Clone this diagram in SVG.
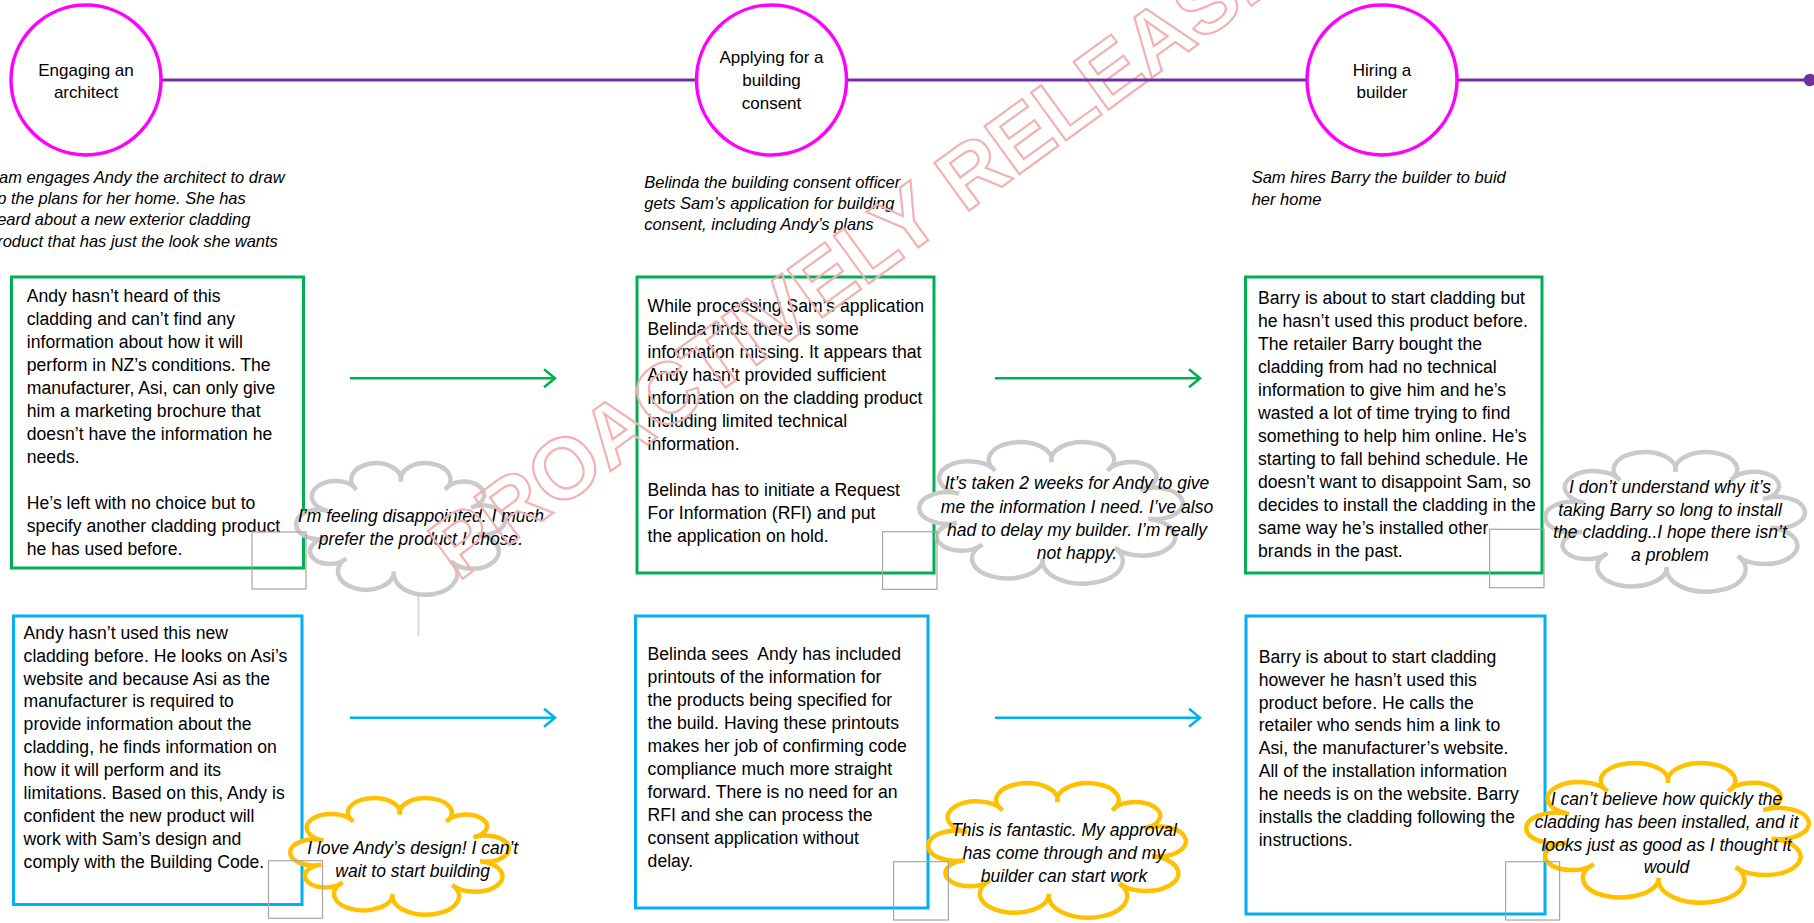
<svg xmlns="http://www.w3.org/2000/svg" width="1814" height="923" viewBox="0 0 1814 923">
<style>
text{font-family:"Liberation Sans",Arial,sans-serif;fill:#000}
.body{font-size:17.6px}
.desc{font-size:16.5px;font-style:italic}
.say{font-size:17.5px;font-style:italic;text-anchor:middle}
.ttl{font-size:17px;text-anchor:middle}
.gbox{fill:#fff;stroke:#00B050;stroke-width:3}
.bbox{fill:#fff;stroke:#00B0F0;stroke-width:3}
.gcloud{fill:#fff;stroke:#CACACA;stroke-width:4.5}
.ycloud{fill:#fff;stroke:#FFC000;stroke-width:4.5}
.sq{fill:none;stroke:#A6A6A6;stroke-width:1.2}
.stage{fill:#fff;stroke:#FF00FF;stroke-width:3.5}
</style>
<defs>
<path id="cloud" vector-effect="non-scaling-stroke" d="M18,41.7 A10.26,10.26 0 1 1 30.5,27.4 A10.9,10.9 0 1 1 50,22 A10.9,10.9 0 1 1 69.5,27.4 A8.86,8.86 0 1 1 80.8,39.3 A9.77,9.77 0 1 1 83.5,57.2 A11.5,11.5 0 1 1 71.9,75 A13.9,13.9 0 1 1 47,81.9 A12.26,12.26 0 1 1 26,73.2 A8.64,8.64 0 1 1 17.2,59.8 A9.77,9.77 0 1 1 18,41.7 Z"/>
<marker id="ag" markerWidth="14" markerHeight="20" refX="12" refY="10" orient="auto" markerUnits="userSpaceOnUse"><path d="M1,1 L12,10 L1,19" fill="none" stroke="#00B050" stroke-width="2.5"/></marker>
<marker id="ab" markerWidth="14" markerHeight="20" refX="12" refY="10" orient="auto" markerUnits="userSpaceOnUse"><path d="M1,1 L12,10 L1,19" fill="none" stroke="#00B0F0" stroke-width="2.5"/></marker>
</defs>
<rect width="1814" height="923" fill="#fff"/>

<g id="desc-architect">
<text class="desc"><tspan x="-12" y="182.7">Sam engages Andy the architect to draw</tspan><tspan x="-12" y="204">up the plans for her home. She has</tspan><tspan x="-12" y="225.3">heard about a new exterior cladding</tspan><tspan x="-12" y="246.7">product that has just the look she wants</tspan></text>
</g>
<g id="desc-consent">
<text class="desc"><tspan x="644.3" y="187.7">Belinda the building consent officer</tspan><tspan x="644.3" y="209">gets Sam’s application for building</tspan><tspan x="644.3" y="230.3">consent, including Andy’s plans</tspan></text>
</g>
<g id="desc-builder">
<text class="desc"><tspan x="1251.7" y="183.3">Sam hires Barry the builder to buid</tspan><tspan x="1251.7" y="205">her home</tspan></text>
</g>

<g id="box-g1">
<rect class="gbox" x="11.5" y="277" width="292" height="291"/>
<text class="body"><tspan x="26.8" y="302.3">Andy hasn’t heard of this</tspan><tspan x="26.8" dy="23">cladding and can’t find any</tspan><tspan x="26.8" dy="23">information about how it will</tspan><tspan x="26.8" dy="23">perform in NZ’s conditions. The</tspan><tspan x="26.8" dy="23">manufacturer, Asi, can only give</tspan><tspan x="26.8" dy="23">him a marketing brochure that</tspan><tspan x="26.8" dy="23">doesn’t have the information he</tspan><tspan x="26.8" dy="23">needs.</tspan><tspan x="26.8" dy="46">He’s left with no choice but to</tspan><tspan x="26.8" dy="23">specify another cladding product</tspan><tspan x="26.8" dy="23">he has used before.</tspan></text>
</g>
<g id="box-g2">
<rect class="gbox" x="637" y="277" width="297" height="296"/>
<text class="body"><tspan x="647.6" y="312">While processing Sam’s application</tspan><tspan x="647.6" dy="23">Belinda finds there is some</tspan><tspan x="647.6" dy="23">information missing. It appears that</tspan><tspan x="647.6" dy="23">Andy hasn’t provided sufficient</tspan><tspan x="647.6" dy="23">information on the cladding product</tspan><tspan x="647.6" dy="23">including limited technical</tspan><tspan x="647.6" dy="23">information.</tspan><tspan x="647.6" dy="46">Belinda has to initiate a Request</tspan><tspan x="647.6" dy="23">For Information (RFI) and put</tspan><tspan x="647.6" dy="23">the application on hold.</tspan></text>
</g>
<g id="box-g3">
<rect class="gbox" x="1245.5" y="277" width="296.5" height="296"/>
<text class="body"><tspan x="1258" y="304.3">Barry is about to start cladding but</tspan><tspan x="1258" dy="22.95">he hasn’t used this product before.</tspan><tspan x="1258" dy="22.95">The retailer Barry bought the</tspan><tspan x="1258" dy="22.95">cladding from had no technical</tspan><tspan x="1258" dy="22.95">information to give him and he’s</tspan><tspan x="1258" dy="22.95">wasted a lot of time trying to find</tspan><tspan x="1258" dy="22.95">something to help him online. He’s</tspan><tspan x="1258" dy="22.95">starting to fall behind schedule. He</tspan><tspan x="1258" dy="22.95">doesn’t want to disappoint Sam, so</tspan><tspan x="1258" dy="22.95">decides to install the cladding in the</tspan><tspan x="1258" dy="22.95">same way he’s installed other</tspan><tspan x="1258" dy="22.95">brands in the past.</tspan></text>
</g>

<g id="box-b1">
<rect class="bbox" x="13.5" y="616" width="288.5" height="288.5"/>
<text class="body"><tspan x="23.6" y="638.7">Andy hasn’t used this new</tspan><tspan x="23.6" dy="22.9">cladding before. He looks on Asi’s</tspan><tspan x="23.6" dy="22.9">website and because Asi as the</tspan><tspan x="23.6" dy="22.9">manufacturer is required to</tspan><tspan x="23.6" dy="22.9">provide information about the</tspan><tspan x="23.6" dy="22.9">cladding, he finds information on</tspan><tspan x="23.6" dy="22.9">how it will perform and its</tspan><tspan x="23.6" dy="22.9">limitations. Based on this, Andy is</tspan><tspan x="23.6" dy="22.9">confident the new product will</tspan><tspan x="23.6" dy="22.9">work with Sam’s design and</tspan><tspan x="23.6" dy="22.9">comply with the Building Code.</tspan></text>
</g>
<g id="box-b2">
<rect class="bbox" x="635.5" y="616" width="292.5" height="292"/>
<text class="body" xml:space="preserve"><tspan x="647.6" y="660">Belinda sees  Andy has included</tspan><tspan x="647.6" dy="22.96">printouts of the information for</tspan><tspan x="647.6" dy="22.96">the products being specified for</tspan><tspan x="647.6" dy="22.96">the build. Having these printouts</tspan><tspan x="647.6" dy="22.96">makes her job of confirming code</tspan><tspan x="647.6" dy="22.96">compliance much more straight</tspan><tspan x="647.6" dy="22.96">forward. There is no need for an</tspan><tspan x="647.6" dy="22.96">RFI and she can process the</tspan><tspan x="647.6" dy="22.96">consent application without</tspan><tspan x="647.6" dy="22.96">delay.</tspan></text>
</g>
<g id="box-b3">
<rect class="bbox" x="1246" y="616" width="299" height="298"/>
<text class="body"><tspan x="1258.7" y="662.7">Barry is about to start cladding</tspan><tspan x="1258.7" dy="22.9">however he hasn’t used this</tspan><tspan x="1258.7" dy="22.9">product before. He calls the</tspan><tspan x="1258.7" dy="22.9">retailer who sends him a link to</tspan><tspan x="1258.7" dy="22.9">Asi, the manufacturer’s website.</tspan><tspan x="1258.7" dy="22.9">All of the installation information</tspan><tspan x="1258.7" dy="22.9">he needs is on the website. Barry</tspan><tspan x="1258.7" dy="22.9">installs the cladding following the</tspan><tspan x="1258.7" dy="22.9">instructions.</tspan></text>
</g>

<g id="connectors">
<line x1="418.5" y1="557" x2="418.5" y2="636" stroke="#D9D9D9" stroke-width="2"/>
<line x1="350" y1="378.3" x2="555" y2="378.3" stroke="#00B050" stroke-width="2.5" marker-end="url(#ag)"/>
<line x1="995" y1="378.3" x2="1200" y2="378.3" stroke="#00B050" stroke-width="2.5" marker-end="url(#ag)"/>
<line x1="350" y1="717.7" x2="555" y2="717.7" stroke="#00B0F0" stroke-width="2.5" marker-end="url(#ab)"/>
<line x1="995" y1="717.7" x2="1200" y2="717.7" stroke="#00B0F0" stroke-width="2.5" marker-end="url(#ab)"/>
</g>

<g id="cloud-g1">
<use href="#cloud" class="gcloud" transform="translate(296 463) scale(2.284 1.505) translate(-4.1 -9.8)"/>
<text class="say"><tspan x="421" y="522.3">I’m feeling disappointed. I much</tspan><tspan x="421" y="545">prefer the product I chose.</tspan></text>
<rect class="sq" x="252" y="532" width="54" height="57"/>
</g>
<g id="cloud-g2">
<use href="#cloud" class="gcloud" transform="translate(919 442) scale(2.885 1.619) translate(-4.1 -9.8)"/>
<text class="say"><tspan x="1077" y="489">It’s taken 2 weeks for Andy to give</tspan><tspan x="1077" y="512.5">me the information I need. I’ve also</tspan><tspan x="1077" y="535.8">had to delay my builder. I’m really</tspan><tspan x="1077" y="558.5">not happy.</tspan></text>
<rect class="sq" x="882.5" y="531.7" width="54.5" height="57.6"/>
</g>
<g id="cloud-g3">
<use href="#cloud" class="gcloud" transform="translate(1545 452) scale(2.842 1.596) translate(-4.1 -9.8)"/>
<text class="say"><tspan x="1670" y="492.7">I don’t understand why it’s</tspan><tspan x="1670" y="516">taking Barry so long to install</tspan><tspan x="1670" y="538.3">the cladding..I hope there isn’t</tspan><tspan x="1670" y="560.7">a problem</tspan></text>
<rect class="sq" x="1489.6" y="529.3" width="54.4" height="58.4"/>
</g>
<g id="cloud-y1">
<use href="#cloud" class="ycloud" transform="translate(290 798) scale(2.393 1.334) translate(-4.1 -9.8)"/>
<text class="say"><tspan x="412.7" y="854.3">I love Andy’s design! I can’t</tspan><tspan x="412.7" y="877.3">wait to start building</tspan></text>
<rect class="sq" x="268.5" y="860.7" width="54" height="57.6"/>
</g>
<g id="cloud-y2">
<use href="#cloud" class="ycloud" transform="translate(928 783) scale(2.82 1.539) translate(-4.1 -9.8)"/>
<text class="say"><tspan x="1064" y="835.7">This is fantastic. My approval</tspan><tspan x="1064" y="858.7">has come through and my</tspan><tspan x="1064" y="881.7">builder can start work</tspan></text>
<rect class="sq" x="893.6" y="861.7" width="54.8" height="58.3"/>
</g>
<g id="cloud-y3">
<use href="#cloud" class="ycloud" transform="translate(1526 763) scale(3.093 1.596) translate(-4.1 -9.8)"/>
<text class="say"><tspan x="1666.5" y="805">I can’t believe how quickly the</tspan><tspan x="1666.5" y="827.7">cladding has been installed, and it</tspan><tspan x="1666.5" y="851">looks just as good as I thought it</tspan><tspan x="1666.5" y="873.3">would</tspan></text>
<rect class="sq" x="1505.6" y="861.7" width="54" height="58.3"/>
</g>

<g id="watermark">
<text x="458" y="582" transform="rotate(-36 458 582)" style="font-family:'Liberation Sans',Arial,sans-serif;font-size:86px;font-weight:bold;fill:none;stroke:#F2B2B2;stroke-width:2.2">PROACTIVELY RELEASED</text>
</g>

<g id="timeline">
<line x1="150" y1="80" x2="1810" y2="80" stroke="#7030A0" stroke-width="3"/>
<circle cx="1810" cy="80" r="6.3" fill="#7030A0"/>
</g>
<g id="stage-architect">
<circle class="stage" cx="86" cy="80" r="75"/>
<text class="ttl"><tspan x="86" y="76">Engaging an</tspan><tspan x="86" y="98.3">architect</tspan></text>
</g>
<g id="stage-consent">
<circle class="stage" cx="771.5" cy="80" r="75"/>
<text class="ttl"><tspan x="771.5" y="63.3">Applying for a</tspan><tspan x="771.5" y="86">building</tspan><tspan x="771.5" y="108.5">consent</tspan></text>
</g>
<g id="stage-builder">
<circle class="stage" cx="1382" cy="80" r="75"/>
<text class="ttl"><tspan x="1382" y="76">Hiring a</tspan><tspan x="1382" y="98.3">builder</tspan></text>
</g>
</svg>
